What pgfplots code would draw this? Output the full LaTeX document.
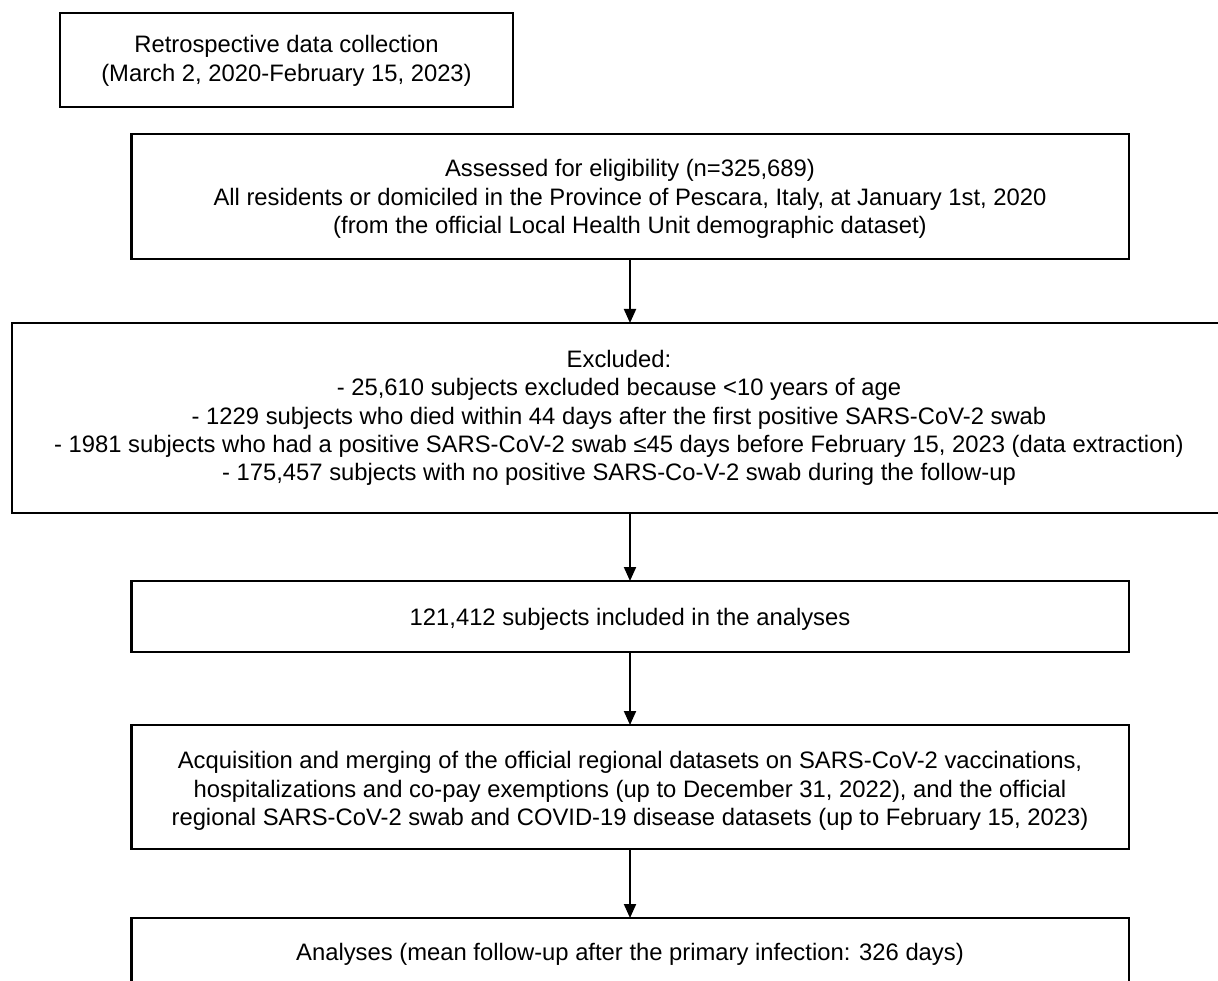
\documentclass[border=0pt]{standalone}
\usepackage{fontspec}
\setmainfont{Liberation Sans}
\usepackage{pgfplots}
\pgfplotsset{compat=1.18}
\usetikzlibrary{arrows.meta}
\tikzset{txt/.style={align=center, inner sep=0pt, font=\fontsize{23.8}{28.3}\selectfont}}
\pgfplotsset{
  bx/.style={black, line width=2.2pt, line join=miter, mark=none},
  arr/.style={black, line width=2pt, mark=none, -{Triangle[length=14pt,width=12pt]}},
}

\begin{document}
\begin{tikzpicture}
\begin{axis}[
  width=1218pt, height=981pt, scale only axis,
  xmin=0, xmax=1218, ymin=0, ymax=981, y dir=reverse,
  hide axis, clip=false,
]
% boxes (pixel coordinates, y downwards), drawn from an edge midpoint so corners join
\addplot[bx] coordinates {(286,13)(513,13)(513,107)(60,107)(60,13)(286,13)};
\addplot[bx] coordinates {(630,134)(1129,134)(1129,259)(131.5,259)(131.5,134)(630,134)};
\addplot[bx] coordinates {(1230,323)(12,323)(12,513)(1230,513)};
\addplot[bx] coordinates {(630,581)(1129,581)(1129,652)(131.5,652)(131.5,581)(630,581)};
\addplot[bx] coordinates {(630,725)(1129,725)(1129,849)(131.5,849)(131.5,725)(630,725)};
\addplot[bx] coordinates {(131.5,990)(131.5,918)(1129,918)(1129,990)};
% arrows
\addplot[arr] coordinates {(630,259)(630,323)};
\addplot[arr] coordinates {(630,513)(630,581)};
\addplot[arr] coordinates {(630,652)(630,725)};
\addplot[arr] coordinates {(630,849)(630,918)};
% texts
\node[txt] at (axis cs:286.5,61) {Retrospective data collection\\(March 2, 2020-February 15, 2023)};
\node[txt] at (axis cs:630,199) {Assessed for eligibility (n=325,689)\\All residents or domiciled in the Province of Pescara, Italy, at January 1st, 2020\\(from the official Local Health Unit demographic dataset)};
\node[txt] at (axis cs:619,418) {Excluded:\\- 25,610 subjects excluded because <10 years of age\\- 1229 subjects who died within 44 days after the first positive SARS-CoV-2 swab\\- 1981 subjects who had a positive SARS-CoV-2 swab ≤45 days before February 15, 2023 (data extraction)\\- 175,457 subjects with no positive SARS-Co-V-2 swab during the follow-up};
\node[txt] at (axis cs:630,619) {121,412 subjects included in the analyses};
\node[txt] at (axis cs:630,791) {Acquisition and merging of the official regional datasets on SARS-CoV-2 vaccinations,\\hospitalizations and co-pay exemptions (up to December 31, 2022), and the official\\regional SARS-CoV-2 swab and COVID-19 disease datasets (up to February 15, 2023)};
\node[txt] at (axis cs:630,954) {Analyses (mean follow-up after the primary infection: 326 days)};
\end{axis}
\pgfresetboundingbox
\path[use as bounding box] (current axis.south west) rectangle (current axis.north east);
\end{tikzpicture}
\end{document}
